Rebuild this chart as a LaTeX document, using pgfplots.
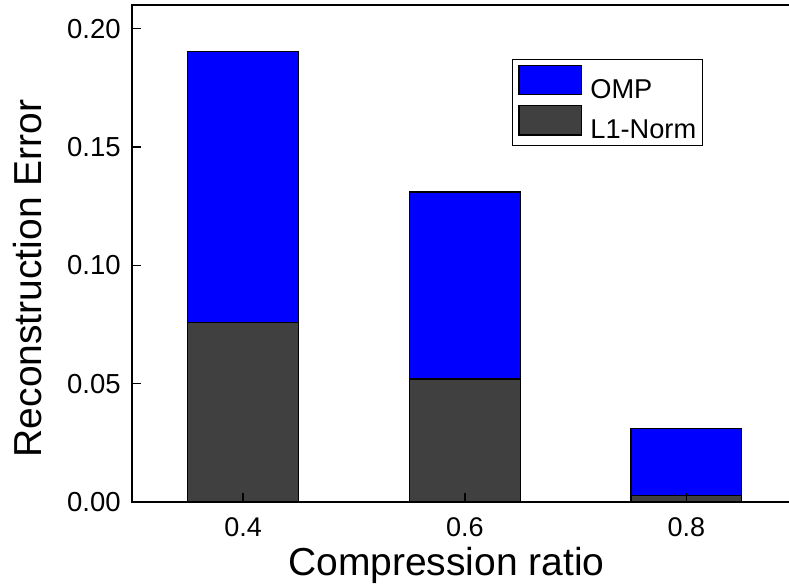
\documentclass[border=0pt]{standalone}
\usepackage{pgfplots}
\pgfplotsset{compat=1.18}
\usepackage{fontspec}
\setmainfont{Liberation Sans}

\definecolor{ompblue}{RGB}{0,0,255}
\definecolor{lonegray}{RGB}{64,64,64}

% legend patch: a wide box centred on the text's cap height
\pgfplotsset{errpatch/.style={legend image code/.code={%
  \draw[##1] (0pt,-4.8pt) rectangle (62.7pt,24.4pt);}}}

% reconstruction error for each compression ratio
\pgfplotstableread{
ratio  omp     lone
0.4    0.1903  0.0757
0.6    0.1310  0.0520
0.8    0.0309  0.0026
}\errtable

\begin{document}
\begin{tikzpicture}
\begin{axis}[
  at={(0,0)}, anchor=south west,
  scale only axis,
  width=665pt, height=497pt,
  xmin=0.3, xmax=0.9,
  ymin=0, ymax=0.21,
  ybar, bar width=0.1,
  axis on top,
  axis line style={line width=1.7pt},
  tick style={black, line width=1.5pt},
  tick align=inside,
  tick pos=left,
  major tick length=9pt,
  xtick={0.4,0.6,0.8},
  ytick={0,0.05,0.10,0.15,0.20},
  minor tick num=0,
  /pgf/number format/assume math mode=true,
  xticklabel style={font=\fontsize{27}{32}\selectfont, inner sep=0pt, anchor=north, yshift=-15pt,
    /pgf/number format/.cd, fixed, fixed zerofill, precision=1},
  yticklabel style={font=\fontsize{27.5}{32}\selectfont, inner sep=0pt, anchor=east, xshift=-11.5pt,
    /pgf/number format/.cd, fixed, fixed zerofill, precision=2},
  scaled y ticks=false,
  xlabel={Compression ratio},
  ylabel={Reconstruction Error},
  xlabel style={font=\fontsize{39}{46}\selectfont, inner sep=0pt,
    at={(axis description cs:0.4725,-0.1489)}, anchor=base},
  ylabel style={font=\fontsize{39}{46}\selectfont, inner sep=0pt,
    at={(axis description cs:-0.1358,0.4497)}, anchor=base},
  legend style={at={(axis description cs:0.5705,0.8907)}, anchor=north west,
    draw=black, line width=1pt, inner xsep=6.3pt, inner ysep=5pt,
    row sep=5.1pt, column sep=8pt,
    font=\fontsize{27.2}{32}\selectfont,
    nodes={inner sep=0pt}, cells={anchor=west}},
]
\addplot[fill=ompblue, draw=black, line width=1.2pt, bar shift=0pt, errpatch]
  table[x=ratio, y=omp] {\errtable};
\addlegendentry{OMP}
\addplot[fill=lonegray, draw=black, line width=1.2pt, bar shift=0pt, errpatch]
  table[x=ratio, y=lone] {\errtable};
\addlegendentry{L1-Norm}
\end{axis}
\pgfresetboundingbox
\useasboundingbox (-132.3pt,-83pt) rectangle (656.7pt,502pt);
\end{tikzpicture}
\end{document}
